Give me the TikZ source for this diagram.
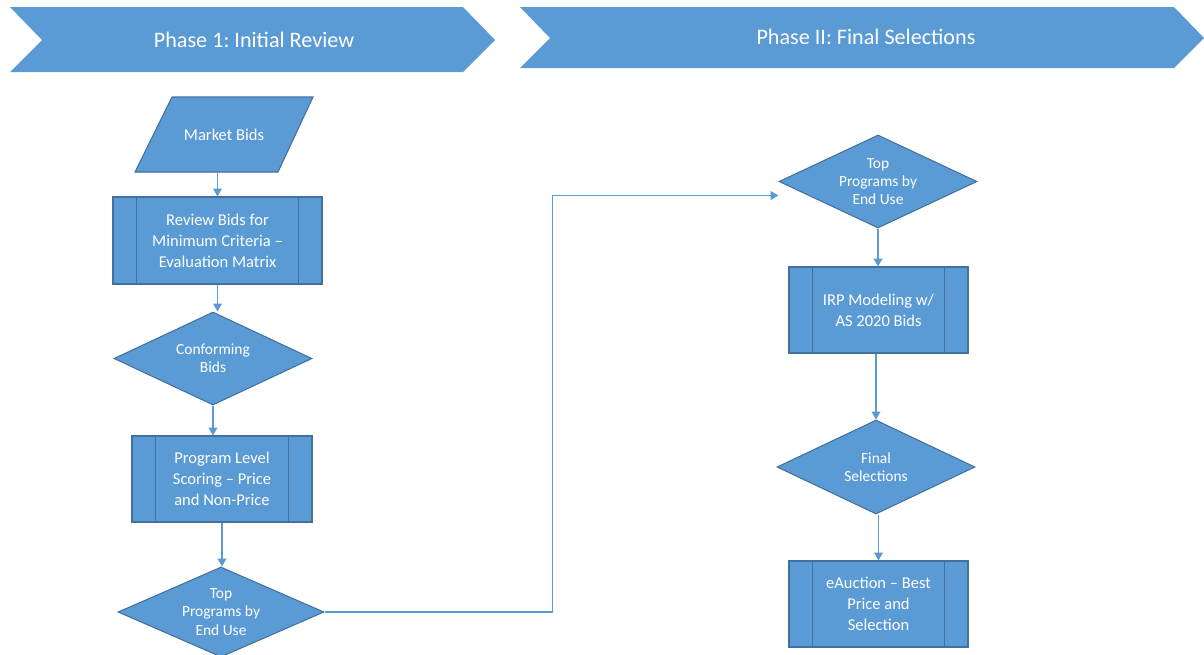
\documentclass[tikz,border=0pt]{standalone}
\usepackage{fontspec}
\setmainfont{Carlito}
\frenchspacing
\usetikzlibrary{shapes.geometric,arrows.meta}
\definecolor{boxblue}{HTML}{5B9BD5}
\definecolor{edgeblue}{HTML}{41719C}
\newcommand{\pxu}{0.02cm}

\begin{document}
\begin{tikzpicture}[x=\pxu, y=-\pxu,
    box/.style={draw=edgeblue, fill=boxblue, text=white, align=center, inner sep=0pt,
      line width=0.6pt, font=\fontsize{9.4}{11.9}\selectfont},
    dec/.style={diamond, aspect=2.2, draw=edgeblue, fill=boxblue, text=white, align=center,
      inner sep=0pt, line width=0.6pt, font=\fontsize{8.8}{10.4}\selectfont},
    arr/.style={draw=boxblue, line width=0.6pt, -{Triangle[width=5pt,length=4.5pt]}},
    phase/.style={text=white, font=\fontsize{12.6}{15}\selectfont}]
  \useasboundingbox (0,0) rectangle (1204,654);

  % phase banners
  \fill[boxblue] (10,7) -- (463,7) -- (495,40) -- (463,72) -- (10,72) -- (42,40) -- cycle;
  \fill[boxblue] (520,7) -- (1174,7) -- (1204,38) -- (1174,68) -- (520,68) -- (550,38) -- cycle;
  \node[phase] (ph1) at (254,40) {Phase 1: Initial Review};
  \node[phase] (ph2) at (866,37) {Phase II: Final Selections};

  % phase 1
  \filldraw[fill=boxblue, draw=edgeblue, line width=0.6pt]
    (172,97) -- (313,97) -- (278,172) -- (135,172) -- cycle;
  \node (bids) [text=white, inner sep=0pt, minimum width=178*\pxu, minimum height=75*\pxu,
    font=\fontsize{9.4}{11.9}\selectfont] at (224,134.5) {Market Bids};
  \node[box, minimum width=209*\pxu, minimum height=87*\pxu] (review) at (217.5,240.5)
    {Review Bids for\\Minimum Criteria –\\Evaluation Matrix};
  \node[dec, minimum width=198*\pxu, minimum height=93*\pxu] (conf) at (213,358.5)
    {Conforming\\Bids};
  \node[box, minimum width=180*\pxu, minimum height=86*\pxu] (scoring) at (222,479)
    {Program Level\\Scoring – Price\\and Non-Price};
  \node[dec, minimum width=206*\pxu, minimum height=90*\pxu] (top1) at (221,612)
    {Top\\Programs by\\End Use};

  % phase 2
  \node[dec, minimum width=198*\pxu, minimum height=93*\pxu] (top2) at (878,181.5)
    {Top\\Programs by\\End Use};
  \node[box, minimum width=179*\pxu, minimum height=86*\pxu] (irp) at (878.5,310)
    {IRP Modeling w/\\AS 2020 Bids};
  \node[dec, minimum width=198*\pxu, minimum height=94*\pxu] (final) at (876,467)
    {Final\\Selections};
  \node[box, minimum width=179*\pxu, minimum height=86*\pxu] (auction) at (878.5,604)
    {eAuction – Best\\Price and\\Selection};

  \foreach \n in {review,scoring,irp,auction}
    \draw[edgeblue, line width=0.6pt]
      ([xshift=24*\pxu]\n.north west) -- ([xshift=24*\pxu]\n.south west)
      ([xshift=-24*\pxu]\n.north east) -- ([xshift=-24*\pxu]\n.south east);

  % connectors
  \draw[arr] (bids.south -| review.north) -- (review.north);
  \draw[arr] (review.south) -- (review.south |- conf.north);
  \draw[arr] (conf.south) -- (conf.south |- scoring.north);
  \draw[arr] (scoring.south) -- (scoring.south |- top1.north);
  \coordinate (tgt) at ([yshift=-14*\pxu]top2.west);
  \draw[arr] (top1.east) -- ++(228,0) |- (tgt);
  \draw[arr] (top2.south) -- (top2.south |- irp.north);
  \draw[arr] (irp.south -| final.north) -- (final.north);
  \draw[arr] (final.south -| auction.north) -- (auction.north);
\end{tikzpicture}
\end{document}
